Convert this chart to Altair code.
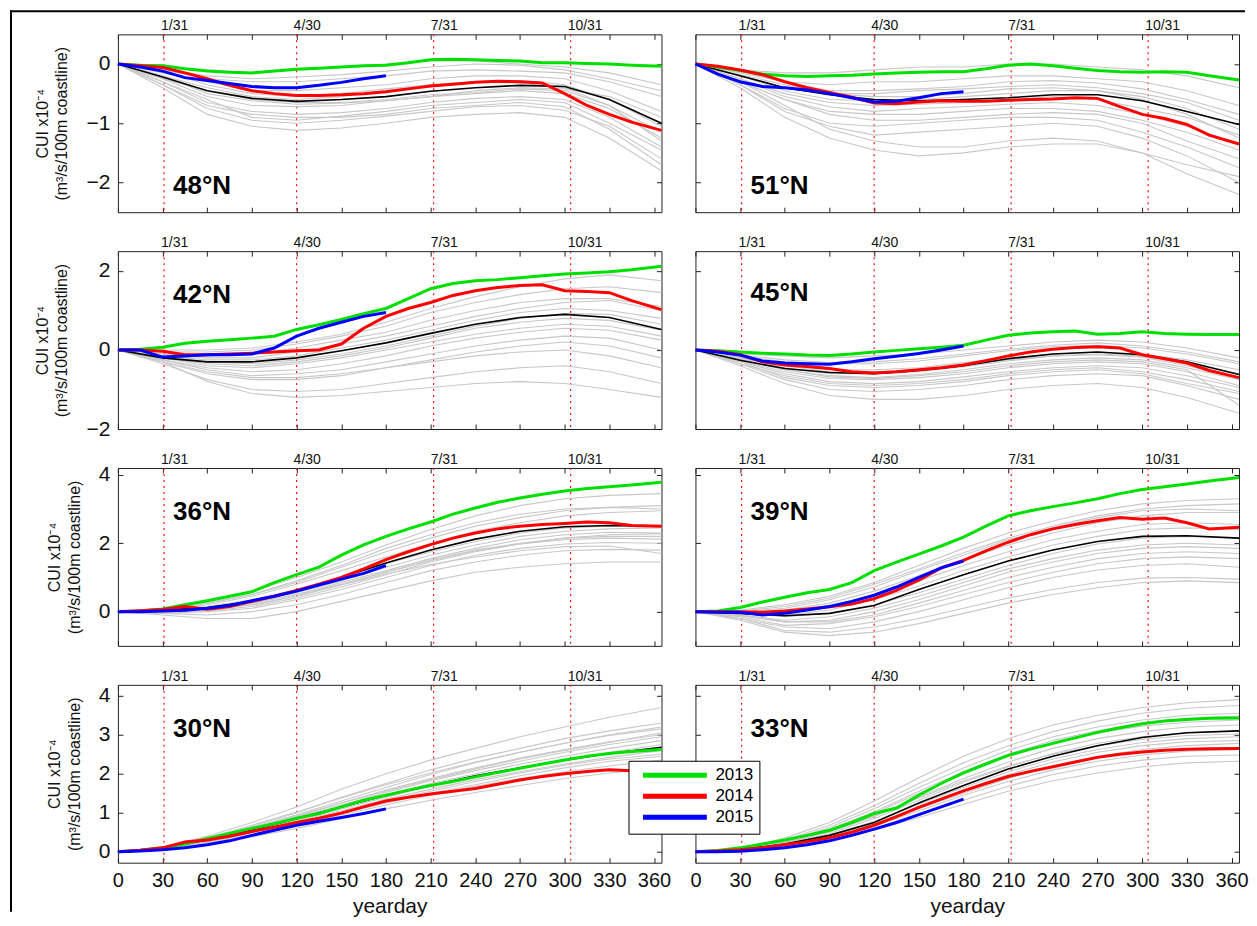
import altair as alt
import pandas as pd

FONT = "Liberation Sans"

DAY_G = [0, 30, 60, 90, 120, 150, 180, 210, 240, 270, 300, 330, 365]
DAY_C = [0, 15, 30, 45, 60, 75, 90, 105, 120, 135, 150, 165, 180, 195, 210, 225,
         240, 255, 270, 285, 300, 315, 330, 345, 365]
DAY_B = [0, 15, 30, 45, 60, 75, 90, 105, 120, 135, 150, 165, 180]
X_TICKS = [0, 30, 60, 90, 120, 150, 180, 210, 240, 270, 300, 330, 360]
DATE_DAYS = [31, 120, 212, 304]
DATE_LABELS = ["1/31", "4/30", "7/31", "10/31"]
YEARS = ["2013", "2014", "2015"]
YEAR_COLORS = ["#00e000", "#ff0000", "#0000ff"]

# ---------------- 48N ----------------
GRAY_48 = [
    [0, -0.05, -0.1, -0.15, -0.1, -0.05, 0.0, 0.05, 0.05, 0.0, -0.05, -0.15, -0.35],
    [0, -0.1, -0.25, -0.3, -0.3, -0.25, -0.2, -0.12, -0.1, -0.12, -0.15, -0.3, -0.55],
    [0, -0.15, -0.3, -0.45, -0.45, -0.4, -0.35, -0.25, -0.2, -0.2, -0.25, -0.45, -0.8],
    [0, -0.2, -0.4, -0.55, -0.6, -0.55, -0.45, -0.35, -0.3, -0.28, -0.35, -0.6, -1.05],
    [0, -0.25, -0.55, -0.7, -0.72, -0.7, -0.62, -0.55, -0.5, -0.45, -0.5, -0.75, -1.25],
    [0, -0.3, -0.65, -0.8, -0.85, -0.82, -0.75, -0.65, -0.58, -0.55, -0.6, -0.9, -1.4],
    [0, -0.35, -0.75, -0.95, -1.0, -0.95, -0.88, -0.8, -0.72, -0.7, -0.78, -1.05, -1.6],
    [0, -0.4, -0.85, -1.05, -1.12, -1.08, -1.0, -0.9, -0.85, -0.82, -0.9, -1.25, -1.8],
    [0, -0.2, -0.5, -0.62, -0.68, -0.66, -0.62, -0.55, -0.45, -0.4, -0.42, -0.55, -0.9],
    [0, -0.12, -0.35, -0.5, -0.55, -0.5, -0.42, -0.35, -0.3, -0.32, -0.4, -0.7, -1.15],
    [0, -0.3, -0.6, -0.9, -0.95, -0.88, -0.8, -0.7, -0.65, -0.6, -0.65, -1.0, -1.45],
    [0, -0.08, -0.2, -0.25, -0.22, -0.18, -0.12, -0.05, 0.0, -0.02, -0.1, -0.25, -0.45],
    [0, -0.25, -0.45, -0.6, -0.65, -0.65, -0.6, -0.52, -0.48, -0.42, -0.45, -0.7, -1.3],
    [0, -0.35, -0.7, -0.85, -0.9, -0.9, -0.85, -0.75, -0.7, -0.65, -0.72, -1.1, -1.7],
]
BLACK_48 = [0, -0.22, -0.45, -0.58, -0.63, -0.6, -0.55, -0.46, -0.4, -0.36, -0.38, -0.6, -1.0]
Y2013_48 = [0, -0.02, -0.03, -0.08, -0.12, -0.14, -0.15, -0.12, -0.09, -0.07, -0.05, -0.03, -0.02,
            0.02, 0.07, 0.08, 0.07, 0.06, 0.05, 0.02, 0.02, 0.01, 0.0, -0.02, -0.04]
Y2014_48 = [0, -0.03, -0.06, -0.15, -0.25, -0.36, -0.45, -0.5, -0.53, -0.53, -0.52, -0.5, -0.47,
            -0.42, -0.37, -0.34, -0.31, -0.29, -0.3, -0.32, -0.5, -0.7, -0.85, -0.98, -1.12]
Y2015_48 = [0, -0.05, -0.12, -0.23, -0.28, -0.33, -0.38, -0.4, -0.4, -0.36, -0.31, -0.25, -0.2]

# ---------------- 51N ----------------
GRAY_51 = [
    [0, -0.1, -0.15, -0.15, -0.1, -0.05, -0.05, 0.0, 0.0, -0.05, -0.1, -0.2, -0.4],
    [0, -0.15, -0.3, -0.35, -0.3, -0.3, -0.25, -0.2, -0.2, -0.25, -0.3, -0.45, -0.7],
    [0, -0.2, -0.4, -0.5, -0.5, -0.45, -0.42, -0.38, -0.35, -0.4, -0.5, -0.65, -0.95],
    [0, -0.25, -0.5, -0.65, -0.7, -0.68, -0.65, -0.6, -0.55, -0.6, -0.75, -0.9, -1.2],
    [0, -0.3, -0.6, -0.8, -0.85, -0.85, -0.8, -0.75, -0.75, -0.8, -0.95, -1.15, -1.45],
    [0, -0.35, -0.75, -1.0, -1.05, -1.0, -0.95, -0.9, -0.9, -0.95, -1.15, -1.4, -1.75],
    [0, -0.4, -0.9, -1.25, -1.45, -1.55, -1.5, -1.4, -1.35, -1.35, -1.5, -1.7, -1.9],
    [0, -0.3, -0.7, -1.1, -1.3, -1.4, -1.4, -1.3, -1.25, -1.3, -1.5, -1.85, -2.2],
    [0, -0.2, -0.45, -0.6, -0.62, -0.6, -0.55, -0.5, -0.45, -0.45, -0.55, -0.75, -1.1],
    [0, -0.12, -0.3, -0.45, -0.45, -0.42, -0.38, -0.3, -0.28, -0.32, -0.42, -0.6, -0.85],
    [0, -0.25, -0.55, -0.72, -0.8, -0.75, -0.72, -0.68, -0.65, -0.7, -0.85, -1.05, -1.35],
    [0, -0.3, -0.6, -0.85, -0.95, -0.95, -0.9, -0.85, -0.82, -0.85, -1.0, -1.3, -1.6],
    [0, -0.18, -0.35, -0.5, -0.55, -0.55, -0.5, -0.42, -0.4, -0.45, -0.6, -0.85, -1.25],
    [0, -0.35, -0.8, -1.05, -1.2, -1.15, -1.1, -1.05, -1.0, -1.05, -1.25, -1.55, -2.0],
]
BLACK_51 = [0, -0.2, -0.4, -0.52, -0.6, -0.62, -0.6, -0.57, -0.52, -0.52, -0.62, -0.8, -1.02]
Y2013_51 = [0, -0.05, -0.11, -0.17, -0.2, -0.21, -0.2, -0.19, -0.17, -0.15, -0.14, -0.13, -0.13,
            -0.08, -0.02, 0.0, -0.03, -0.07, -0.11, -0.13, -0.14, -0.13, -0.14, -0.2, -0.27]
Y2014_51 = [0, -0.04, -0.1, -0.18, -0.3, -0.4, -0.48, -0.56, -0.66, -0.67, -0.64, -0.62, -0.63,
            -0.63, -0.61, -0.6, -0.59, -0.57, -0.58, -0.72, -0.85, -0.92, -1.02, -1.2, -1.35]
Y2015_51 = [0, -0.17, -0.3, -0.38, -0.4, -0.44, -0.5, -0.57, -0.64, -0.63, -0.57, -0.5, -0.47]

# ---------------- 42N ----------------
GRAY_42 = [
    [0, -0.05, -0.05, 0.0, 0.15, 0.35, 0.6, 0.95, 1.2, 1.4, 1.55, 1.6, 1.45],
    [0, -0.1, -0.15, -0.1, 0.05, 0.25, 0.45, 0.75, 1.0, 1.2, 1.3, 1.3, 1.1],
    [0, -0.15, -0.25, -0.25, -0.15, 0.05, 0.25, 0.5, 0.75, 0.95, 1.05, 1.0, 0.8],
    [0, -0.2, -0.35, -0.4, -0.3, -0.15, 0.05, 0.3, 0.55, 0.7, 0.8, 0.75, 0.5],
    [0, -0.25, -0.45, -0.55, -0.5, -0.35, -0.15, 0.1, 0.3, 0.45, 0.55, 0.5, 0.25],
    [0, -0.3, -0.6, -0.75, -0.75, -0.65, -0.45, -0.25, -0.05, 0.1, 0.2, 0.1, -0.2],
    [0, -0.35, -0.75, -1.0, -1.05, -1.0, -0.85, -0.7, -0.55, -0.45, -0.4, -0.55, -0.85],
    [0, -0.3, -0.8, -1.1, -1.2, -1.15, -1.05, -0.95, -0.85, -0.8, -0.85, -1.0, -1.2],
    [0, -0.2, -0.4, -0.45, -0.35, -0.2, 0.0, 0.2, 0.4, 0.55, 0.65, 0.6, 0.35],
    [0, -0.1, -0.2, -0.2, -0.05, 0.15, 0.35, 0.6, 0.85, 1.05, 1.2, 1.25, 1.0],
    [0, -0.25, -0.5, -0.65, -0.6, -0.5, -0.3, -0.1, 0.1, 0.25, 0.35, 0.3, 0.0],
    [0, -0.15, -0.3, -0.35, -0.25, -0.1, 0.1, 0.35, 0.6, 0.8, 0.92, 0.9, 0.65],
    [0, 0.0, 0.0, 0.05, 0.2, 0.4, 0.7, 1.05, 1.35, 1.6, 1.8, 1.9, 1.75],
    [0, -0.3, -0.55, -0.7, -0.7, -0.6, -0.45, -0.3, -0.15, -0.05, 0.0, -0.15, -0.45],
]
BLACK_42 = [0, -0.2, -0.3, -0.3, -0.2, -0.02, 0.18, 0.42, 0.65, 0.82, 0.9, 0.82, 0.52]
Y2013_42 = [0, 0.02, 0.07, 0.17, 0.22, 0.26, 0.3, 0.35, 0.52, 0.64, 0.77, 0.92, 1.05,
            1.3, 1.55, 1.68, 1.75, 1.78, 1.83, 1.88, 1.92, 1.95, 1.98, 2.03, 2.12]
Y2014_42 = [0, 0.0, -0.03, -0.12, -0.12, -0.1, -0.08, -0.05, -0.02, 0.0, 0.15, 0.55, 0.85,
            1.05, 1.2, 1.38, 1.5, 1.58, 1.63, 1.65, 1.5, 1.48, 1.45, 1.25, 1.02]
Y2015_42 = [0, 0.0, -0.18, -0.15, -0.12, -0.12, -0.1, 0.05, 0.35, 0.55, 0.7, 0.85, 0.95]

# ---------------- 45N ----------------
GRAY_45 = [
    [0, -0.1, -0.15, -0.2, -0.15, -0.1, 0.0, 0.1, 0.2, 0.25, 0.2, 0.05, -0.2],
    [0, -0.15, -0.3, -0.35, -0.35, -0.28, -0.15, -0.02, 0.08, 0.12, 0.05, -0.1, -0.35],
    [0, -0.2, -0.4, -0.5, -0.5, -0.45, -0.32, -0.2, -0.1, -0.05, -0.1, -0.25, -0.5],
    [0, -0.25, -0.5, -0.65, -0.7, -0.62, -0.5, -0.35, -0.25, -0.2, -0.25, -0.45, -0.75],
    [0, -0.3, -0.6, -0.8, -0.85, -0.8, -0.68, -0.55, -0.45, -0.4, -0.45, -0.65, -0.95],
    [0, -0.35, -0.75, -1.0, -1.05, -1.0, -0.9, -0.75, -0.65, -0.6, -0.65, -0.9, -1.25],
    [0, -0.4, -0.85, -1.15, -1.25, -1.25, -1.15, -1.0, -0.9, -0.85, -0.95, -1.2, -1.6],
    [0, -0.2, -0.45, -0.6, -0.6, -0.55, -0.42, -0.28, -0.15, -0.1, -0.15, -0.35, -0.6],
    [0, -0.12, -0.25, -0.32, -0.3, -0.22, -0.1, 0.02, 0.12, 0.18, 0.1, -0.05, -0.3],
    [0, -0.28, -0.55, -0.72, -0.75, -0.7, -0.6, -0.45, -0.35, -0.3, -0.35, -0.55, -0.9],
    [0, -0.3, -0.7, -0.9, -0.95, -0.9, -0.8, -0.65, -0.55, -0.5, -0.6, -0.85, -1.1],
    [0, -0.18, -0.4, -0.55, -0.55, -0.5, -0.38, -0.25, -0.15, -0.12, -0.18, -0.4, -0.7],
    [0, -0.35, -0.65, -0.85, -0.9, -0.85, -0.75, -0.6, -0.5, -0.45, -0.55, -0.75, -1.05],
    [0, -0.22, -0.5, -0.68, -0.72, -0.65, -0.55, -0.4, -0.3, -0.25, -0.3, -0.5, -1.4],
]
BLACK_45 = [0, -0.26, -0.47, -0.57, -0.6, -0.52, -0.4, -0.22, -0.1, -0.05, -0.12, -0.3, -0.62]
Y2013_45 = [0, -0.02, -0.05, -0.08, -0.1, -0.13, -0.14, -0.1, -0.05, -0.01, 0.03, 0.07, 0.12,
            0.25, 0.37, 0.43, 0.46, 0.48, 0.4, 0.42, 0.46, 0.42, 0.4, 0.39, 0.39]
Y2014_45 = [0, -0.03, -0.12, -0.3, -0.38, -0.42, -0.47, -0.55, -0.58, -0.55, -0.5, -0.45, -0.38,
            -0.27, -0.15, -0.05, 0.02, 0.06, 0.08, 0.05, -0.12, -0.22, -0.33, -0.52, -0.7]
Y2015_45 = [0, -0.05, -0.13, -0.28, -0.33, -0.35, -0.36, -0.3, -0.22, -0.16, -0.09, 0.0, 0.1]

# ---------------- 36N ----------------
GRAY_36 = [
    [0, 0.1, 0.3, 0.6, 1.0, 1.45, 1.95, 2.4, 2.8, 3.1, 3.3, 3.4, 3.45],
    [0, 0.05, 0.2, 0.45, 0.8, 1.2, 1.6, 2.0, 2.35, 2.6, 2.8, 2.9, 2.95],
    [0, 0.05, 0.15, 0.35, 0.65, 1.0, 1.4, 1.75, 2.05, 2.3, 2.45, 2.5, 2.5],
    [0, 0.0, 0.05, 0.2, 0.45, 0.8, 1.15, 1.5, 1.8, 2.0, 2.15, 2.2, 2.2],
    [0, -0.05, -0.1, 0.0, 0.2, 0.5, 0.85, 1.2, 1.45, 1.65, 1.78, 1.82, 1.8],
    [0, -0.1, -0.2, -0.2, 0.0, 0.3, 0.6, 0.9, 1.15, 1.3, 1.4, 1.45, 1.45],
    [0, 0.02, 0.12, 0.3, 0.55, 0.9, 1.3, 1.65, 1.95, 2.2, 2.35, 2.42, 2.45],
    [0, 0.05, 0.25, 0.5, 0.85, 1.3, 1.75, 2.15, 2.5, 2.75, 2.95, 3.05, 3.1],
    [0, 0.0, 0.08, 0.25, 0.5, 0.85, 1.2, 1.55, 1.85, 2.1, 2.25, 2.32, 2.3],
    [0, -0.05, 0.0, 0.1, 0.35, 0.65, 1.0, 1.35, 1.65, 1.85, 1.98, 2.02, 2.0],
    [0, 0.08, 0.25, 0.5, 0.9, 1.35, 1.85, 2.25, 2.6, 2.85, 3.0, 3.05, 3.0],
    [0, 0.02, 0.1, 0.25, 0.5, 0.8, 1.15, 1.5, 1.78, 1.98, 2.1, 2.15, 2.12],
    [0, 0.0, 0.02, 0.15, 0.4, 0.72, 1.08, 1.45, 1.75, 1.98, 2.15, 2.25, 2.28],
    [0, -0.02, 0.05, 0.2, 0.45, 0.78, 1.1, 1.38, 1.6, 1.78, 1.9, 1.92, 1.7],
]
BLACK_36 = [0, 0.05, 0.12, 0.3, 0.6, 1.0, 1.42, 1.8, 2.12, 2.35, 2.48, 2.52, 2.5]
Y2013_36 = [0, 0.02, 0.08, 0.2, 0.32, 0.45, 0.58, 0.85, 1.08, 1.3, 1.65, 1.95, 2.2,
            2.42, 2.62, 2.85, 3.03, 3.2, 3.32, 3.43, 3.53, 3.6, 3.65, 3.7, 3.78]
Y2014_36 = [0, 0.03, 0.06, 0.15, 0.07, 0.15, 0.3, 0.45, 0.62, 0.8, 1.0, 1.25, 1.52,
            1.75, 1.96, 2.15, 2.3, 2.42, 2.5, 2.55, 2.58, 2.62, 2.6, 2.52, 2.5]
Y2015_36 = [0, 0.0, 0.02, 0.04, 0.1, 0.18, 0.32, 0.45, 0.6, 0.78, 0.95, 1.12, 1.35]

# ---------------- 39N ----------------
GRAY_39 = [
    [0, 0.05, 0.2, 0.45, 0.85, 1.35, 1.85, 2.3, 2.65, 2.95, 3.15, 3.25, 3.3],
    [0, 0.0, 0.05, 0.25, 0.6, 1.05, 1.5, 1.95, 2.3, 2.6, 2.8, 2.9, 2.9],
    [0, -0.05, -0.1, 0.05, 0.35, 0.75, 1.2, 1.6, 1.95, 2.2, 2.4, 2.45, 2.4],
    [0, -0.1, -0.25, -0.15, 0.1, 0.45, 0.85, 1.25, 1.55, 1.8, 1.95, 2.0, 1.95],
    [0, -0.15, -0.4, -0.35, -0.15, 0.15, 0.5, 0.85, 1.15, 1.4, 1.55, 1.6, 1.55],
    [0, -0.2, -0.55, -0.6, -0.45, -0.2, 0.1, 0.4, 0.65, 0.85, 0.98, 1.0, 0.95],
    [0, -0.1, -0.3, -0.25, 0.0, 0.35, 0.75, 1.15, 1.45, 1.7, 1.85, 1.9, 1.85],
    [0, 0.0, 0.1, 0.35, 0.72, 1.2, 1.65, 2.1, 2.45, 2.75, 2.95, 3.0, 2.95],
    [0, -0.05, -0.15, -0.05, 0.2, 0.55, 0.95, 1.35, 1.7, 1.98, 2.15, 2.2, 2.15],
    [0, -0.2, -0.45, -0.5, -0.3, 0.0, 0.35, 0.7, 1.0, 1.22, 1.35, 1.4, 1.3],
    [0, -0.25, -0.6, -0.7, -0.6, -0.35, -0.05, 0.25, 0.5, 0.7, 0.85, 0.9, 0.85],
    [0, -0.05, -0.05, 0.15, 0.5, 0.9, 1.35, 1.75, 2.1, 2.35, 2.55, 2.6, 2.55],
    [0, -0.12, -0.3, -0.3, -0.1, 0.25, 0.62, 1.0, 1.3, 1.55, 1.7, 1.75, 1.7],
    [0, 0.02, 0.15, 0.4, 0.8, 1.25, 1.72, 2.15, 2.5, 2.8, 3.0, 3.1, 3.15],
]
BLACK_39 = [0, -0.05, -0.12, -0.05, 0.18, 0.65, 1.08, 1.48, 1.8, 2.05, 2.2, 2.22, 2.15]
Y2013_39 = [0, 0.02, 0.12, 0.28, 0.42, 0.55, 0.65, 0.85, 1.2, 1.45, 1.68, 1.92, 2.18,
            2.5, 2.8, 2.95, 3.07, 3.18, 3.3, 3.45, 3.57, 3.65, 3.73, 3.82, 3.92]
Y2014_39 = [0, 0.0, 0.0, -0.02, 0.02, 0.08, 0.14, 0.22, 0.38, 0.62, 0.92, 1.28, 1.5,
            1.78, 2.03, 2.25, 2.42, 2.55, 2.66, 2.75, 2.7, 2.74, 2.6, 2.42, 2.47]
Y2015_39 = [0, -0.02, -0.02, -0.1, -0.05, 0.05, 0.15, 0.3, 0.48, 0.72, 1.0, 1.28, 1.48]

# ---------------- 30N ----------------
GRAY_30 = [
    [0, 0.12, 0.4, 0.75, 1.15, 1.6, 2.0, 2.35, 2.65, 2.95, 3.2, 3.45, 3.7],
    [0, 0.1, 0.35, 0.65, 1.0, 1.4, 1.75, 2.1, 2.4, 2.65, 2.9, 3.1, 3.3],
    [0, 0.1, 0.3, 0.6, 0.9, 1.25, 1.58, 1.88, 2.15, 2.4, 2.62, 2.82, 3.0],
    [0, 0.08, 0.28, 0.55, 0.85, 1.15, 1.45, 1.75, 2.0, 2.25, 2.45, 2.65, 2.85],
    [0, 0.08, 0.25, 0.5, 0.78, 1.05, 1.35, 1.6, 1.85, 2.05, 2.25, 2.42, 2.6],
    [0, 0.06, 0.2, 0.42, 0.68, 0.95, 1.2, 1.45, 1.68, 1.88, 2.05, 2.2, 2.35],
    [0, 0.05, 0.18, 0.38, 0.6, 0.85, 1.1, 1.32, 1.52, 1.7, 1.88, 2.02, 2.15],
    [0, 0.1, 0.32, 0.62, 0.95, 1.3, 1.65, 1.98, 2.28, 2.55, 2.78, 3.0, 3.2],
    [0, 0.09, 0.3, 0.58, 0.88, 1.2, 1.52, 1.82, 2.08, 2.32, 2.55, 2.75, 2.95],
    [0, 0.07, 0.24, 0.48, 0.75, 1.02, 1.3, 1.55, 1.8, 2.02, 2.22, 2.38, 2.5],
    [0, 0.1, 0.33, 0.62, 0.92, 1.25, 1.55, 1.85, 2.12, 2.38, 2.6, 2.8, 3.05],
    [0, 0.08, 0.26, 0.52, 0.8, 1.1, 1.4, 1.68, 1.92, 2.15, 2.35, 2.55, 2.75],
    [0, 0.11, 0.36, 0.68, 1.02, 1.38, 1.72, 2.02, 2.3, 2.55, 2.78, 2.98, 3.15],
    [0, 0.06, 0.22, 0.45, 0.7, 0.98, 1.25, 1.5, 1.72, 1.95, 2.15, 2.32, 2.45],
]
BLACK_30 = [0, 0.1, 0.3, 0.55, 0.85, 1.15, 1.45, 1.7, 1.95, 2.15, 2.35, 2.52, 2.68]
Y2013_30 = [0, 0.04, 0.1, 0.2, 0.34, 0.47, 0.6, 0.72, 0.86, 0.98, 1.15, 1.32, 1.45,
            1.58, 1.7, 1.8, 1.92, 2.03, 2.14, 2.25, 2.35, 2.45, 2.52, 2.57, 2.62]
Y2014_30 = [0, 0.04, 0.1, 0.25, 0.3, 0.4, 0.52, 0.63, 0.75, 0.86, 0.99, 1.15, 1.3,
            1.4, 1.48, 1.55, 1.62, 1.73, 1.84, 1.93, 2.0, 2.06, 2.1, 2.08, 2.12]
Y2015_30 = [0, 0.02, 0.05, 0.1, 0.18, 0.28, 0.42, 0.55, 0.68, 0.78, 0.88, 0.98, 1.1]

# ---------------- 33N ----------------
GRAY_33 = [
    [0, 0.08, 0.35, 0.75, 1.3, 1.9, 2.45, 2.9, 3.25, 3.5, 3.7, 3.82, 3.9],
    [0, 0.06, 0.28, 0.62, 1.1, 1.65, 2.15, 2.6, 2.95, 3.2, 3.38, 3.5, 3.55],
    [0, 0.05, 0.22, 0.5, 0.9, 1.4, 1.88, 2.3, 2.65, 2.9, 3.08, 3.2, 3.25],
    [0, 0.04, 0.18, 0.42, 0.78, 1.22, 1.65, 2.05, 2.38, 2.62, 2.8, 2.9, 2.95],
    [0, 0.03, 0.14, 0.35, 0.65, 1.05, 1.45, 1.8, 2.1, 2.32, 2.48, 2.58, 2.62],
    [0, 0.02, 0.1, 0.28, 0.55, 0.88, 1.22, 1.55, 1.82, 2.02, 2.18, 2.28, 2.32],
    [0, 0.05, 0.25, 0.55, 0.98, 1.5, 2.0, 2.45, 2.8, 3.05, 3.22, 3.32, 3.38],
    [0, 0.03, 0.16, 0.4, 0.72, 1.15, 1.58, 1.98, 2.3, 2.55, 2.72, 2.82, 2.85],
    [0, 0.07, 0.3, 0.68, 1.18, 1.75, 2.28, 2.72, 3.08, 3.35, 3.55, 3.68, 3.75],
    [0, 0.04, 0.2, 0.46, 0.85, 1.32, 1.78, 2.18, 2.52, 2.78, 2.95, 3.05, 3.1],
    [0, 0.02, 0.12, 0.32, 0.6, 0.95, 1.32, 1.68, 1.98, 2.2, 2.35, 2.45, 2.48],
    [0, 0.05, 0.24, 0.52, 0.92, 1.38, 1.82, 2.2, 2.5, 2.72, 2.88, 2.98, 3.02],
    [0, 0.06, 0.26, 0.58, 1.02, 1.55, 2.05, 2.5, 2.85, 3.1, 3.3, 3.42, 3.48],
    [0, 0.03, 0.15, 0.38, 0.7, 1.1, 1.5, 1.88, 2.2, 2.45, 2.62, 2.72, 2.78],
]
BLACK_33 = [0, 0.05, 0.2, 0.42, 0.75, 1.25, 1.7, 2.12, 2.45, 2.72, 2.93, 3.05, 3.1]
Y2013_33 = [0, 0.03, 0.1, 0.2, 0.3, 0.42, 0.55, 0.75, 0.98, 1.12, 1.45, 1.75, 2.02,
            2.25, 2.47, 2.63, 2.78, 2.92, 3.06, 3.18, 3.28, 3.35, 3.39, 3.42, 3.43]
Y2014_33 = [0, 0.02, 0.05, 0.1, 0.18, 0.26, 0.36, 0.5, 0.68, 0.9, 1.14, 1.35, 1.56,
            1.75, 1.93, 2.06, 2.18, 2.3, 2.42, 2.5, 2.56, 2.6, 2.63, 2.64, 2.65]
Y2015_33 = [0, 0.0, 0.01, 0.05, 0.1, 0.18, 0.28, 0.42, 0.58, 0.75, 0.95, 1.15, 1.35]

# label, gray, black, 2013, 2014, 2015, y-domain, y-ticks, label y-position
PANELS = [
    ("48°N", GRAY_48, BLACK_48, Y2013_48, Y2014_48, Y2015_48, [-2.5, 0.5], [-2, -1, 0], -2.05),
    ("51°N", GRAY_51, BLACK_51, Y2013_51, Y2014_51, Y2015_51, [-2.5, 0.5], [-2, -1, 0], -2.05),
    ("42°N", GRAY_42, BLACK_42, Y2013_42, Y2014_42, Y2015_42, [-2.0, 2.5], [-2, 0, 2], 1.4),
    ("45°N", GRAY_45, BLACK_45, Y2013_45, Y2014_45, Y2015_45, [-2.0, 2.5], [-2, 0, 2], 1.45),
    ("36°N", GRAY_36, BLACK_36, Y2013_36, Y2014_36, Y2015_36, [-1.0, 4.2], [0, 2, 4], 2.9),
    ("39°N", GRAY_39, BLACK_39, Y2013_39, Y2014_39, Y2015_39, [-1.0, 4.2], [0, 2, 4], 2.9),
    ("30°N", GRAY_30, BLACK_30, Y2013_30, Y2014_30, Y2015_30, [-0.28, 4.28], [0, 1, 2, 3, 4], 3.15),
    ("33°N", GRAY_33, BLACK_33, Y2013_33, Y2014_33, Y2015_33, [-0.28, 4.28], [0, 1, 2, 3, 4], 3.15),
]

LABEL_DAY = 37
W, H = 544, 178

LEGEND = alt.Legend(
    orient="none", legendX=511, legendY=727, title=None,
    symbolType="M0,0H21.3", symbolSize=36, symbolStrokeWidth=5,
    labelFontSize=17, labelFont=FONT, labelColor="black", labelOffset=64,
    padding=6, strokeColor="black", fillColor="white", rowPadding=0,
)


def gray_frame(lines):
    rows = []
    for i, vals in enumerate(lines):
        for d, v in zip(DAY_G, vals):
            rows.append({"day": d, "v": v, "run": "r%d" % i})
    return pd.DataFrame(rows)


def year_frame(g13, g14, g15):
    rows = []
    for year, days, vals in ((YEARS[0], DAY_C, g13), (YEARS[1], DAY_C, g14), (YEARS[2], DAY_B, g15)):
        for d, v in zip(days, vals):
            rows.append({"day": d, "v": v, "year": year})
    return pd.DataFrame(rows)


def make_panel(idx, label, gray, black, g13, g14, g15, ydom, yticks, label_y):
    left = idx % 2 == 0
    bottom = idx >= 6
    xs = alt.Scale(domain=[0, 365], nice=False, zero=False)
    ys = alt.Scale(domain=ydom, nice=False, zero=False)

    bkw = dict(orient="bottom", values=X_TICKS, tickSize=5, offset=-5, domain=False,
               grid=False, labels=bottom, tickColor="#222", labelFlush=False, labelOverlap=False)
    if bottom:
        bkw.update(labelFontSize=20, labelPadding=8, labelColor="#111", title="yearday",
                   titleFontSize=21, titleFontWeight="normal", titlePadding=5, titleColor="#111")
    else:
        bkw.update(title=None)
    lkw = dict(orient="left", values=yticks, tickSize=5, offset=-5, domain=False, grid=False,
               labels=left, tickColor="#222", labelFlush=False, labelOverlap=False)
    if left:
        lkw.update(labelFontSize=21, labelPadding=8, labelColor="#111",
                   title=["CUI x10\u207b\u2074", "(m\u00b3/s/100m coastline)"],
                   titleFontSize=16, titleLineHeight=20, titleFontWeight="normal",
                   titlePadding=16, titleColor="#111")
    else:
        lkw.update(title=None)
    top_axis = alt.Axis(orient="top", values=X_TICKS, tickSize=5, offset=-5, domain=False,
                        grid=False, labels=False, title=None, tickColor="#222")
    right_axis = alt.Axis(orient="right", values=yticks, tickSize=5, offset=-5, domain=False,
                          grid=False, labels=False, title=None, tickColor="#222")

    date_df = pd.DataFrame({"day": DATE_DAYS, "lab": DATE_LABELS})
    rules = alt.Chart(date_df).mark_rule(color="#ff1010", strokeDash=[2, 4], strokeWidth=1.2).encode(
        x=alt.X("day:Q", scale=xs, axis=top_axis))
    gray_l = alt.Chart(gray_frame(gray)).mark_line(color="#c8c8c8", strokeWidth=1.1).encode(
        x=alt.X("day:Q", scale=xs, axis=alt.Axis(**bkw)),
        y=alt.Y("v:Q", scale=ys, axis=alt.Axis(**lkw)),
        detail="run:N")
    black_l = alt.Chart(pd.DataFrame({"day": DAY_G, "v": black})).mark_line(
        color="black", strokeWidth=1.6).encode(
        x=alt.X("day:Q", scale=xs, axis=None), y=alt.Y("v:Q", scale=ys, axis=None))
    years_l = alt.Chart(year_frame(g13, g14, g15)).mark_line(strokeWidth=3).encode(
        x=alt.X("day:Q", scale=xs, axis=None), y=alt.Y("v:Q", scale=ys, axis=None),
        color=alt.Color("year:N", scale=alt.Scale(domain=YEARS, range=YEAR_COLORS), legend=LEGEND))
    lab_l = alt.Chart(pd.DataFrame({"day": [LABEL_DAY], "v": [label_y], "lab": [label]})).mark_text(
        align="left", baseline="middle", fontSize=26, fontWeight="bold", font=FONT, color="black").encode(
        x=alt.X("day:Q", scale=xs, axis=None),
        y=alt.Y("v:Q", scale=ys, axis=right_axis),
        text="lab:N")
    dates_l = alt.Chart(date_df).mark_text(
        align="left", baseline="alphabetic", fontSize=14, font=FONT, color="#111", dx=-3).encode(
        x=alt.X("day:Q", scale=xs, axis=None), y=alt.value(-4), text="lab:N")
    layers = [rules, gray_l, black_l, years_l, lab_l, dates_l]
    if idx == 0:
        fdf = pd.DataFrame({"k": [0]})
        layers.append(alt.Chart(fdf).mark_rule(color="black", strokeWidth=2).encode(
            x=alt.value(-108), x2=alt.value(1128), y=alt.value(-23)))
        layers.append(alt.Chart(fdf).mark_rule(color="black", strokeWidth=2).encode(
            x=alt.value(-107), y=alt.value(-24), y2=alt.value(878)))
    return alt.layer(*layers).properties(width=W, height=H)


panels = [make_panel(i, *p) for i, p in enumerate(PANELS)]

chart = alt.concat(
    *panels, columns=2, spacing={"row": 39, "column": 34}, bounds="flush"
).properties(
    padding={"left": 0, "top": 0, "right": 0, "bottom": 0}
).configure(
    font=FONT
).configure_view(
    stroke="#222", strokeWidth=1
).configure_axis(
    labelFont=FONT, titleFont=FONT
)

chart.save("out.html", embed_options={"renderer": "svg", "actions": False})
